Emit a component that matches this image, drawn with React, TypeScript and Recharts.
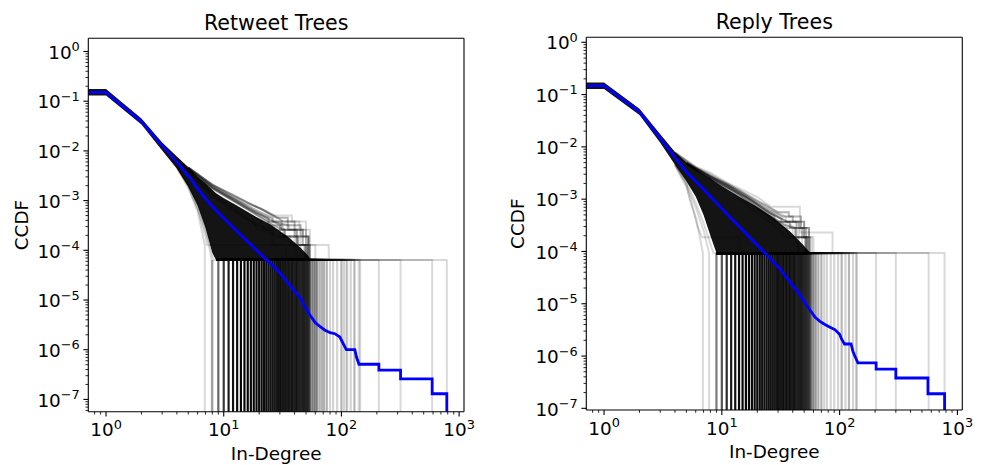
import React from "react";
import { Area, ComposedChart, Line, ReferenceLine, XAxis, YAxis } from "recharts";

// CCDF = 0 cannot sit on a log axis; matplotlib clips it below the frame, so do we
const BOTTOM = 1e-9;
const FONT = "DejaVu Sans";

const X_DOMAIN: [number, number] = [0.707, 1100];
const RT_Y_DOMAIN: [number, number] = [5.66e-8, 1.843];
const RE_Y_DOMAIN: [number, number] = [9.29e-8, 1.246];

const decades = [1e-8, 1e-7, 1e-6, 1e-5, 1e-4, 1e-3, 1e-2, 0.1, 1, 10, 100, 1000];
const mantissas = [1, 2, 3, 4, 5, 6, 7, 8, 9];

// ---------------- Retweet Trees ----------------
const rtFloor = 6.4e-5;
const rtFloorStart = 8.6;

const rtBlue = [
  [0.5, 0.151], [1, 0.151], [2, 0.0389], [3, 0.0126], [4, 0.00603], [5, 0.00316], [6, 0.00174],
  [7, 0.0011], [8, 7.6e-4], [10, 4.4e-4], [13, 2.4e-4], [16, 1.48e-4], [20, 8.9e-5], [25, 5.4e-5],
  [30, 3.5e-5], [37, 1.9e-5], [45, 1.07e-5], [48, 7.9e-6], [54, 5.0e-6], [60, 3.5e-6], [66, 2.9e-6],
  [72, 2.5e-6], [80, 2.2e-6], [88, 2.1e-6], [97, 1.8e-6], [103, 1.35e-6], [110, 1.0e-6], [130, 1.0e-6],
  [134, 7.2e-7], [141, 5.1e-7], [208, 5.1e-7], [208, 3.9e-7], [318, 3.9e-7], [318, 2.6e-7],
  [590, 2.6e-7], [590, 1.3e-7], [786, 1.3e-7], [786, BOTTOM],
];

// solid black core of the ensemble
const rtCoreX = [0.5, 1, 2, 3, 4, 5, 6, 7, 8, 8.6, 10, 13, 18, 25, 35, 45, 52, 55];
const rtCoreLo = [0.13, 0.13, 0.0339, 0.0102, 0.00437, 0.0019, 7.9e-4, 2.8e-4, 8.9e-5, 6.4e-5, 6.4e-5, 6.4e-5, 6.4e-5, 6.4e-5, 6.4e-5, 6.4e-5, 6.4e-5, 6.4e-5];
const rtCoreHi = [0.175, 0.175, 0.0447, 0.0148, 0.0077, 0.00468, 0.00302, 0.00224, 0.00166, 0.0014, 0.00112, 7.9e-4, 5.0e-4, 3.3e-4, 1.9e-4, 1.12e-4, 7.9e-5, 6.4e-5];

// single faint runs at the edge of the ensemble
const rtFringe = [
  [[4, 0.007], [6, 0.00316], [8, 0.002], [11, 0.00126], [15, 8.9e-4], [20, 7.1e-4], [26, 5.0e-4], [38, 5.0e-4], [38, 3.8e-4], [50, 3.8e-4], [50, 2.6e-4], [54, 2.6e-4], [54, 6.4e-5], [62, 6.4e-5], [62, BOTTOM]],
  [[4, 0.0068], [6, 0.003], [8, 0.0018], [11, 0.00112], [15, 7.4e-4], [20, 5.6e-4], [28, 3.8e-4], [44, 3.8e-4], [44, 2.6e-4], [47, 2.6e-4], [47, 1.9e-4], [52, 1.9e-4], [52, 6.4e-5], [110, 6.4e-5], [110, BOTTOM]],
  [[4, 0.0065], [6, 0.0028], [8, 0.0017], [12, 0.001], [17, 6.3e-4], [22, 4.5e-4], [27, 3.2e-4], [36, 3.2e-4], [36, 2.6e-4], [41, 2.6e-4], [41, 1.28e-4], [78, 1.28e-4], [78, 6.4e-5], [318, 6.4e-5], [318, BOTTOM]],
  [[4, 0.0066], [6, 0.0029], [8, 0.00175], [12, 0.00105], [18, 5.6e-4], [24, 3.8e-4], [24, 3.2e-4], [32, 3.2e-4], [32, 1.9e-4], [45, 1.9e-4], [45, 6.4e-5], [208, 6.4e-5], [208, BOTTOM]],
  [[4, 0.0064], [6, 0.0027], [8, 0.0015], [12, 8.5e-4], [16, 5.6e-4], [21, 3.8e-4], [21, 3.2e-4], [30, 2.6e-4], [30, 1.9e-4], [40, 1.9e-4], [40, 6.4e-5], [590, 6.4e-5], [590, BOTTOM]],
  [[4, 0.0063], [6, 0.0026], [8, 0.0014], [11, 8.5e-4], [15, 5.0e-4], [19, 3.2e-4], [19, 2.6e-4], [26, 2.6e-4], [26, 1.28e-4], [34, 1.28e-4], [34, 6.4e-5], [786, 6.4e-5], [786, BOTTOM]],
  [[4, 0.0062], [6, 0.0025], [8, 0.0013], [12, 6.8e-4], [17, 3.8e-4], [23, 2.6e-4], [33, 2.6e-4], [33, 1.9e-4], [42, 1.9e-4], [42, 6.4e-5], [140, 6.4e-5], [140, BOTTOM]],
  [[4, 0.0061], [6, 0.0024], [8, 0.00125], [11, 7.1e-4], [15, 4.5e-4], [20, 3.2e-4], [28, 1.9e-4], [37, 1.9e-4], [37, 1.28e-4], [48, 1.28e-4], [48, 6.4e-5], [130, 6.4e-5], [130, BOTTOM]],
  [[4, 0.0045], [5, 0.0018], [6, 6e-4], [6.9, 1.28e-4], [6.9, BOTTOM]],
  [[4, 0.005], [5, 0.002], [6, 7e-4], [7, 1.9e-4], [7.2, 1.28e-4], [60, 1.28e-4], [60, 6.4e-5], [100, 6.4e-5], [100, BOTTOM]],
  [[4, 0.005], [5, 0.0021], [6, 8.5e-4], [7, 2.8e-4], [7.9, 6.4e-5], [7.9, BOTTOM]],
  [[4, 0.0048], [5, 0.0019], [6, 7e-4], [7.5, 1.5e-4], [8.2, 6.4e-5], [9, 6.4e-5], [9, BOTTOM]],
];

// darker runs hugging the top edge of the core
const rtMid = [
  [[5, 0.0047], [8, 0.0021], [12, 0.0013], [17, 8.5e-4], [22, 6.3e-4], [28, 4.5e-4], [35, 4.5e-4], [35, 3.2e-4], [45, 3.2e-4], [45, 1.9e-4], [52, 1.9e-4], [52, 6.4e-5]],
  [[5, 0.0046], [8, 0.002], [11, 0.0013], [15, 8.5e-4], [20, 6e-4], [26, 4.5e-4], [26, 3.8e-4], [35, 3.2e-4], [35, 2.6e-4], [47, 2.6e-4], [47, 1.28e-4], [54, 1.28e-4], [54, 6.4e-5]],
  [[5, 0.0045], [8, 0.0019], [12, 0.0011], [17, 6.8e-4], [23, 4.5e-4], [30, 3.2e-4], [30, 2.6e-4], [40, 2.6e-4], [40, 1.9e-4], [50, 1.9e-4], [50, 6.4e-5]],
  [[5, 0.0044], [8, 0.0018], [12, 0.001], [18, 5.6e-4], [26, 3.2e-4], [33, 2.6e-4], [33, 1.9e-4], [43, 1.9e-4], [43, 1.28e-4], [51, 1.28e-4], [51, 6.4e-5]],
  [[5, 0.0045], [8, 0.00185], [13, 9.5e-4], [19, 5.6e-4], [24, 4.5e-4], [24, 3.8e-4], [31, 3.8e-4], [31, 2.6e-4], [42, 2.6e-4], [42, 1.28e-4], [49, 1.28e-4], [49, 6.4e-5]],
  [[5, 0.0046], [8, 0.0021], [11, 0.0014], [16, 9e-4], [21, 6.8e-4], [27, 5e-4], [32, 3.8e-4], [40, 3.8e-4], [40, 2.6e-4], [50, 2.6e-4], [50, 1.9e-4], [53, 1.9e-4], [53, 6.4e-5]],
];

// max in-degree of the sampled trees and how many trees stop there
const rtDropX = [8, 9, 10, 11, 12, 13, 14, 15, 16, 17, 18, 19, 20, 21, 22, 23, 24, 25, 26, 27, 28, 29, 30, 31, 32, 33, 34, 35, 36, 37, 38, 39, 40, 41, 42, 43, 44, 45, 46, 47, 48, 49, 50, 51, 52, 53, 54, 56, 58, 60, 62, 65, 68, 71, 75, 80, 85, 92, 100, 105, 112, 120, 128, 144];
const rtDropN = [2, 4, 8, 12, 15, 17, 19, 20, 20, 20, 19, 18, 18, 17, 16, 16, 15, 15, 14, 14, 13, 13, 12, 12, 11, 11, 10, 10, 9, 9, 9, 8, 8, 8, 7, 7, 7, 6, 6, 6, 6, 5, 5, 5, 5, 4, 4, 3, 3, 3, 2, 2, 2, 2, 2, 1, 1, 1, 1, 1, 1, 1, 1, 1];

// ---------------- Reply Trees ----------------
const reFloor = 9.3e-5;
const reFloorStart = 9;

const reBlue = [
  [0.5, 0.148], [1, 0.148], [2, 0.0468], [3, 0.0145], [4, 0.0063], [5, 0.0033], [6, 0.00219],
  [8, 0.00112], [10, 6.6e-4], [14, 3.0e-4], [20, 1.32e-4], [25, 7.8e-5], [31, 4.7e-5], [38, 2.6e-5],
  [46, 1.48e-5], [50, 1.1e-5], [56, 7.6e-6], [62, 5.5e-6], [68, 4.6e-6], [75, 4.0e-6], [82, 3.6e-6],
  [91, 3.2e-6], [100, 2.6e-6], [104, 2.1e-6], [110, 1.7e-6], [125, 1.7e-6], [130, 1.2e-6], [136, 9.5e-7],
  [143, 7.4e-7], [204, 7.4e-7], [204, 5.6e-7], [300, 5.6e-7], [300, 3.8e-7], [562, 3.8e-7],
  [562, 1.9e-7], [778, 1.9e-7], [778, BOTTOM],
];

const reCoreX = [0.5, 1, 2, 3, 4, 5, 6, 7, 8, 9, 10, 14, 20, 27, 38, 48, 55, 58];
const reCoreLo = [0.128, 0.128, 0.0407, 0.012, 0.00457, 0.00219, 0.00112, 5.0e-4, 2.0e-4, 9.3e-5, 9.3e-5, 9.3e-5, 9.3e-5, 9.3e-5, 9.3e-5, 9.3e-5, 9.3e-5, 9.3e-5];
const reCoreHi = [0.171, 0.171, 0.0537, 0.0174, 0.00794, 0.005, 0.0038, 0.003, 0.00251, 0.00209, 0.00178, 0.00112, 7.1e-4, 4.5e-4, 2.4e-4, 1.41e-4, 1.0e-4, 9.3e-5];

const reFringe = [
  [[4, 0.008], [6, 0.0042], [8, 0.0032], [11, 0.0021], [15, 0.0015], [20, 0.0011], [26, 7.2e-4], [46, 7.2e-4], [46, 2.3e-4], [87, 2.3e-4], [87, 9.3e-5], [139, 9.3e-5], [139, BOTTOM]],
  [[4, 0.0078], [6, 0.0041], [8, 0.003], [11, 0.002], [15, 0.0013], [20, 9e-4], [27, 6.2e-4], [35, 4.65e-4], [35, 3.7e-4], [50, 3.7e-4], [50, 1.86e-4], [60, 1.86e-4], [60, 9.3e-5], [204, 9.3e-5], [204, BOTTOM]],
  [[4, 0.0077], [6, 0.004], [8, 0.0029], [11, 0.0019], [15, 0.0012], [20, 8e-4], [25, 5.6e-4], [32, 4.2e-4], [42, 2.8e-4], [55, 2.8e-4], [55, 1.86e-4], [58, 1.86e-4], [58, 9.3e-5], [300, 9.3e-5], [300, BOTTOM]],
  [[4, 0.0076], [6, 0.0039], [8, 0.0028], [11, 0.0018], [15, 0.0011], [21, 6.5e-4], [28, 4.2e-4], [40, 2.8e-4], [40, 1.86e-4], [52, 1.86e-4], [52, 9.3e-5], [570, 9.3e-5], [570, BOTTOM]],
  [[4, 0.0075], [6, 0.0038], [8, 0.0027], [12, 0.0016], [17, 9e-4], [24, 5.2e-4], [31, 3.7e-4], [31, 2.8e-4], [45, 2.8e-4], [45, 9.3e-5], [778, 9.3e-5], [778, BOTTOM]],
  [[4, 0.0074], [6, 0.0037], [8, 0.0026], [12, 0.0015], [18, 7.5e-4], [26, 4.2e-4], [36, 2.8e-4], [36, 1.86e-4], [48, 1.86e-4], [48, 9.3e-5], [120, 9.3e-5], [120, BOTTOM]],
  [[4, 0.0073], [6, 0.0036], [8, 0.0025], [12, 0.0014], [18, 6.5e-4], [25, 3.7e-4], [33, 2.3e-4], [33, 1.86e-4], [44, 1.86e-4], [44, 9.3e-5], [104, 9.3e-5], [104, BOTTOM]],
  [[4, 0.0045], [5, 0.002], [5.35, 9.5e-4], [6.1, 4.0e-4], [6.9, 9.3e-5], [6.9, BOTTOM]],
  [[4, 0.0046], [5, 0.0019], [6, 7e-4], [7, 2.5e-4], [7.8, 9.3e-5], [7.8, BOTTOM]],
  [[4, 0.0047], [5, 0.0021], [6, 8.5e-4], [7, 3.5e-4], [8, 1.4e-4], [8.5, 9.3e-5], [9, 9.3e-5], [9, BOTTOM]],
  [[4, 0.0044], [5, 0.0017], [5.5, 9e-4], [6.2, 3e-4], [6.8, 1.86e-4], [14, 1.86e-4], [14, 9.3e-5], [20, 9.3e-5], [20, BOTTOM]],
];

const reMid = [
  [[5, 0.005], [8, 0.0027], [11, 0.0019], [15, 0.0013], [20, 8.5e-4], [26, 6e-4], [33, 4.65e-4], [40, 4.65e-4], [40, 3.7e-4], [50, 3.7e-4], [50, 1.86e-4], [56, 1.86e-4], [56, 9.3e-5]],
  [[5, 0.0049], [8, 0.0026], [12, 0.0016], [17, 0.001], [23, 6.5e-4], [30, 4.65e-4], [36, 3.7e-4], [45, 3.7e-4], [45, 2.8e-4], [52, 2.8e-4], [52, 9.3e-5]],
  [[5, 0.0048], [8, 0.0025], [11, 0.0017], [16, 0.0011], [22, 6.5e-4], [28, 4.65e-4], [28, 3.7e-4], [38, 3.7e-4], [38, 2.8e-4], [48, 2.8e-4], [48, 1.86e-4], [54, 1.86e-4], [54, 9.3e-5]],
  [[5, 0.0049], [8, 0.0027], [12, 0.0017], [18, 9.5e-4], [25, 5.6e-4], [32, 4.2e-4], [32, 3.7e-4], [43, 3.7e-4], [43, 1.86e-4], [51, 1.86e-4], [51, 9.3e-5]],
  [[5, 0.005], [8, 0.0028], [11, 0.002], [14, 0.0015], [19, 0.001], [24, 7.5e-4], [30, 5.6e-4], [37, 5.6e-4], [37, 4.65e-4], [47, 4.65e-4], [47, 2.8e-4], [55, 2.8e-4], [55, 9.3e-5]],
  [[5, 0.0048], [8, 0.0025], [12, 0.0015], [17, 9e-4], [24, 5.2e-4], [34, 3.2e-4], [42, 2.8e-4], [42, 1.86e-4], [53, 1.86e-4], [53, 9.3e-5]],
];

const reDropX = [9, 10, 11, 12, 13, 14, 15, 16, 17, 18, 19, 20, 21, 22, 23, 24, 25, 26, 27, 28, 29, 30, 31, 32, 33, 34, 35, 36, 37, 38, 39, 40, 41, 42, 43, 44, 45, 46, 47, 48, 49, 50, 51, 52, 53, 54, 55, 56, 57, 59, 61, 63, 66, 70, 74, 78, 84, 90, 97, 104, 112, 120, 130, 139];
const reDropN = [3, 6, 10, 13, 16, 18, 19, 19, 19, 18, 18, 17, 17, 16, 16, 15, 15, 14, 14, 13, 13, 12, 12, 11, 11, 10, 10, 10, 9, 9, 9, 8, 8, 8, 7, 7, 7, 6, 6, 6, 5, 5, 5, 5, 4, 4, 4, 3, 3, 3, 2, 2, 2, 2, 1, 1, 1, 1, 1, 1, 1, 1, 1, 1];

// ---------------- helpers ----------------
type Pt = { x: number; y: number };
const toPts = (arr: number[][]): Pt[] => arr.map(([x, y]) => ({ x, y }));

const isMajor = (v: number) => Math.abs(Math.log10(v) - Math.round(Math.log10(v))) < 1e-6;
const expText = (v: number) => {
  const e = Math.round(Math.log10(v));
  return e < 0 ? "\u2212" + String(-e) : String(e);
};

const ticksFor = (dom: [number, number]) => {
  const out: number[] = [];
  decades.forEach((d) =>
    mantissas.forEach((m) => {
      const v = Number((m * d).toPrecision(6));
      if (v >= dom[0] && v <= dom[1]) out.push(v);
    })
  );
  return out;
};

const TICK_FONT = 18.4;
const SUP_FONT = 12.9;

function XTick(props: any) {
  const { x, y, payload } = props;
  const v = payload.value;
  const major = isMajor(v);
  return (
    <g>
      <line x1={x} x2={x} y1={y} y2={y + (major ? 4.9 : 2.8)} stroke="#000" strokeWidth={major ? 1.1 : 0.85} />
      {major && (
        <text x={x} y={y + 24.5} textAnchor="middle" fontFamily={FONT} fontSize={TICK_FONT} fill="#000">
          10<tspan dy={-7.5} fontSize={SUP_FONT}>{expText(v)}</tspan>
        </text>
      )}
    </g>
  );
}

function YTick(props: any) {
  const { x, y, payload } = props;
  const v = payload.value;
  const major = isMajor(v);
  return (
    <g>
      <line x1={x} x2={x - (major ? 4.9 : 2.8)} y1={y} y2={y} stroke="#000" strokeWidth={major ? 1.1 : 0.85} />
      {major && (
        <text x={x - 8.5} y={y + 7.2} textAnchor="end" fontFamily={FONT} fontSize={TICK_FONT} fill="#000">
          10<tspan dy={-7.5} fontSize={SUP_FONT}>{expText(v)}</tspan>
        </text>
      )}
    </g>
  );
}

interface PanelProps {
  yDomain: [number, number];
  margin: { top: number; right: number; bottom: number; left: number };
  blue: number[][];
  coreX: number[];
  coreLo: number[];
  coreHi: number[];
  fringe: number[][][];
  mid: number[][][];
  dropX: number[];
  dropN: number[];
  floor: number;
  floorStart: number;
}

function Panel(p: PanelProps) {
  const core = p.coreX.map((x, i) => ({ x, band: [p.coreLo[i], p.coreHi[i]] }));
  const drops = p.dropX.map((d, i) => ({
    pts: toPts([[Math.min(p.floorStart, d), p.floor], [d, p.floor], [d, BOTTOM]]),
    op: 1 - Math.pow(0.83, p.dropN[i]),
  }));
  return (
    <ComposedChart width={492} height={465} data={core} margin={p.margin}>
      <XAxis
        type="number"
        dataKey="x"
        scale="log"
        domain={X_DOMAIN}
        allowDataOverflow
        ticks={ticksFor(X_DOMAIN)}
        interval={0}
        tickSize={0}
        tickMargin={0}
        tickLine={false}
        axisLine={{ stroke: "#000", strokeWidth: 1.1 }}
        tick={(t: any) => <XTick {...t} />}
        height={1}
      />
      <YAxis
        type="number"
        scale="log"
        domain={p.yDomain}
        allowDataOverflow
        ticks={ticksFor(p.yDomain)}
        interval={0}
        tickSize={0}
        tickMargin={0}
        tickLine={false}
        axisLine={{ stroke: "#000", strokeWidth: 1.1 }}
        tick={(t: any) => <YTick {...t} />}
        width={1}
      />
      {drops.map((d, i) => (
        <Line key={"drop" + i} data={d.pts} dataKey="y" type="linear" stroke="#000" strokeOpacity={d.op} strokeWidth={2.2} dot={false} activeDot={false} isAnimationActive={false} />
      ))}
      <Area dataKey="band" type="linear" fill="#000" fillOpacity={0.92} stroke="none" isAnimationActive={false} />
      {p.mid.map((m, i) => (
        <Line key={"mid" + i} data={toPts(m)} dataKey="y" type="linear" stroke="#000" strokeOpacity={0.3} strokeWidth={2} dot={false} activeDot={false} isAnimationActive={false} />
      ))}
      {p.fringe.map((f, i) => (
        <Line key={"fr" + i} data={toPts(f)} dataKey="y" type="linear" stroke="#000" strokeOpacity={0.15} strokeWidth={2} dot={false} activeDot={false} isAnimationActive={false} />
      ))}
      <Line data={toPts(p.blue)} dataKey="y" type="linear" stroke="#0000ff" strokeWidth={2.8} dot={false} activeDot={false} isAnimationActive={false} />
      <ReferenceLine y={p.yDomain[1]} stroke="#000" strokeWidth={1.1} />
      <ReferenceLine x={X_DOMAIN[1]} stroke="#000" strokeWidth={1.1} />
    </ComposedChart>
  );
}

export default function App() {
  const txt = { fontFamily: FONT, fill: "#000" } as const;
  return (
    <div style={{ position: "fixed", left: 0, top: 0, width: 984, height: 465, background: "#fff" }}>
      <div style={{ position: "absolute", left: 0, top: 0 }}>
        <Panel
          yDomain={RT_Y_DOMAIN}
          margin={{ top: 38.3, right: 28, bottom: 52.3, left: 87.3 }}
          blue={rtBlue}
          coreX={rtCoreX}
          coreLo={rtCoreLo}
          coreHi={rtCoreHi}
          fringe={rtFringe}
          mid={rtMid}
          dropX={rtDropX}
          dropN={rtDropN}
          floor={rtFloor}
          floorStart={rtFloorStart}
        />
      </div>
      <div style={{ position: "absolute", left: 492, top: 0 }}>
        <Panel
          yDomain={RE_Y_DOMAIN}
          margin={{ top: 37.3, right: 21.7, bottom: 54, left: 93.3 }}
          blue={reBlue}
          coreX={reCoreX}
          coreLo={reCoreLo}
          coreHi={reCoreHi}
          fringe={reFringe}
          mid={reMid}
          dropX={reDropX}
          dropN={reDropN}
          floor={reFloor}
          floorStart={reFloorStart}
        />
      </div>
      <svg width={984} height={465} style={{ position: "absolute", left: 0, top: 0, pointerEvents: "none" }}>
        <text x={276.2} y={30} textAnchor="middle" fontSize={20.6} {...txt}>Retweet Trees</text>
        <text x={774.3} y={29} textAnchor="middle" fontSize={20.6} {...txt}>Reply Trees</text>
        <text x={276.2} y={460} textAnchor="middle" fontSize={TICK_FONT} {...txt}>In-Degree</text>
        <text x={774.3} y={458.4} textAnchor="middle" fontSize={TICK_FONT} {...txt}>In-Degree</text>
        <text x={27.5} y={225} textAnchor="middle" fontSize={TICK_FONT} transform="rotate(-90 27.5 225)" {...txt}>CCDF</text>
        <text x={524.5} y={223.7} textAnchor="middle" fontSize={TICK_FONT} transform="rotate(-90 524.5 223.7)" {...txt}>CCDF</text>
      </svg>
    </div>
  );
}
